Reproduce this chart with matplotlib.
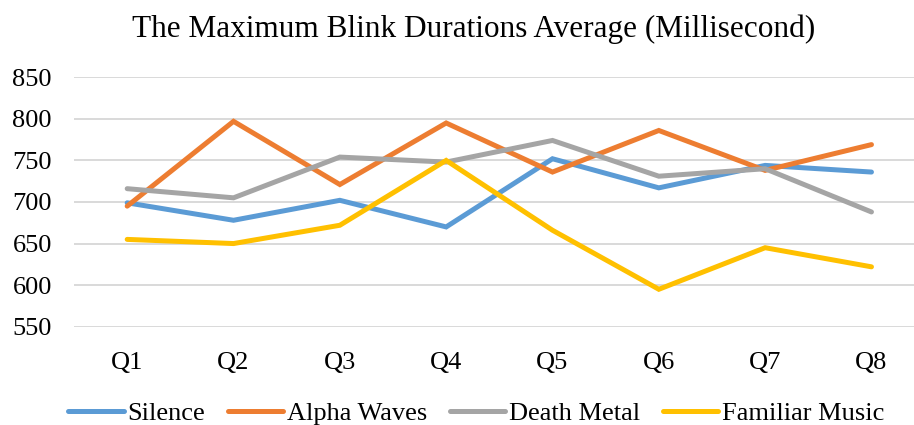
import matplotlib
matplotlib.use("Agg")
import matplotlib.pyplot as plt

plt.rcParams['font.family'] = ['Liberation Serif', 'DejaVu Serif']

quarters = ["Q1", "Q2", "Q3", "Q4", "Q5", "Q6", "Q7", "Q8"]
silence = [699, 678, 702, 670, 752, 717, 744, 736]
alpha_waves = [695, 797, 721, 795, 736, 786, 738, 769]
death_metal = [716, 705, 754, 748, 774, 731, 740, 688]
familiar_music = [655, 650, 672, 750, 666, 595, 645, 622]
yticks = [550, 600, 650, 700, 750, 800, 850]

series = [
    ("Silence", silence, "#5B9BD5"),
    ("Alpha Waves", alpha_waves, "#ED7D31"),
    ("Death Metal", death_metal, "#A5A5A5"),
    ("Familiar Music", familiar_music, "#FFC000"),
]

fig = plt.figure(figsize=(9.14, 4.25), dpi=100)
ax = fig.add_axes([0.081, 0.2313, 0.919, 0.5869])

x = range(len(quarters))
for name, vals, col in series:
    ax.plot(x, vals, color=col, lw=3.6, label=name, solid_capstyle='round',
            solid_joinstyle='miter', zorder=3)

ax.set_ylim(550, 850)
ax.set_yticks(yticks)
ax.set_xlim(-0.5, 7.4)
ax.set_xticks(list(x))
ax.set_xticklabels(quarters)
ax.grid(axis='y', color='#D9D9D9', lw=1.4, zorder=0)
for s in ax.spines.values():
    s.set_visible(False)
ax.tick_params(axis='both', length=0, labelsize=19, colors='black')
ax.tick_params(axis='y', pad=16)
ax.tick_params(axis='x', pad=18)

fig.text(0.518, 0.932, "The Maximum Blink Durations Average (Millisecond)",
         ha='center', va='center', fontsize=22.5)

fig.legend(loc='center', bbox_to_anchor=(0.521, 0.028), ncol=4, frameon=False,
           fontsize=19, handlelength=2.1, handletextpad=0.13,
           columnspacing=0.87, borderaxespad=0)

fig.savefig("out.png", dpi=100)
